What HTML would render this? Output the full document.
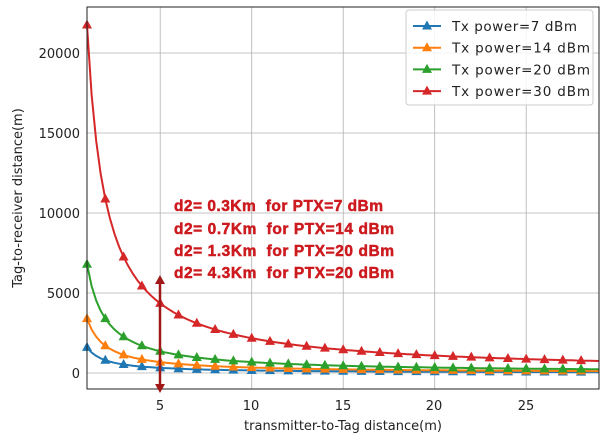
<!DOCTYPE html><html><head><style>body{margin:0;background:#fff}</style></head><body>
<svg id="s" width="603" height="434" xmlns="http://www.w3.org/2000/svg" font-family="DejaVu Sans, Liberation Sans, sans-serif">
<rect width="603" height="434" fill="#fff"/>
<g id="grid" stroke="#b0b0b0" stroke-width="0.8"></g>
<g id="series"></g>
<rect x="87" y="7" width="512" height="382" fill="none" stroke="#222" stroke-width="1"/>
<g font-size="13" fill="#222" text-anchor="end">
<text x="80" y="378">0</text><text x="80" y="298">5000</text><text x="80" y="218">10000</text><text x="80" y="138">15000</text><text x="80" y="58">20000</text></g>
<g font-size="13" fill="#222" text-anchor="middle">
<text x="160" y="410">5</text><text x="251" y="410">10</text><text x="343" y="410">15</text><text x="434" y="410">20</text><text x="526" y="410">25</text>
<text x="343" y="430">transmitter-to-Tag distance(m)</text></g>
<text font-size="13" fill="#222" text-anchor="middle" transform="translate(22,198) rotate(-90)">Tag-to-receiver distance(m)</text>
<g stroke="#a01818" stroke-width="2.5" fill="#a01818">
<line x1="160" y1="282" x2="160" y2="386"/>
<polygon points="155,284 160,275 165,284" stroke="none"/>
<polygon points="155,384 160,393 165,384" stroke="none"/></g>
<g font-size="15.5" font-weight="700" fill="#cc1a1f" stroke="#cc1a1f" stroke-width="0.5" font-family="Liberation Sans, sans-serif" lengthAdjust="spacing">
<text x="174" y="211" textLength="209">d2= 0.3Km&#160;&#160;for PTX=7 dBm</text>
<text x="174" y="234" textLength="220">d2= 0.7Km&#160;&#160;for PTX=14 dBm</text>
<text x="174" y="256" textLength="220">d2= 1.3Km&#160;&#160;for PTX=20 dBm</text>
<text x="174" y="278" textLength="220">d2= 4.3Km&#160;&#160;for PTX=20 dBm</text></g>
<rect x="406" y="10" width="187" height="95" rx="3" fill="#fff" fill-opacity="0.85" stroke="#ccc"/>
<g id="leg" font-size="13.5" fill="#222"></g>
</svg>
<script>
var X=function(x){return 87+(x-1)*18.3},Y=function(y){return 373-y*0.016};
var g=document.getElementById('grid'),h='';
[5,10,15,20,25].forEach(function(v){h+='<line x1="'+X(v)+'" x2="'+X(v)+'" y1="7" y2="389"/>'});
[0,5000,10000,15000,20000].forEach(function(v){h+='<line y1="'+Y(v)+'" y2="'+Y(v)+'" x1="87" x2="599"/>'});
g.innerHTML=h;
var S=[[1600,'#1f77b4'],[3400,'#ff7f0e'],[6800,'#2ca02c'],[21750,'#d62728']],o='';
function tri(x,y,c){return '<polygon points="'+x+','+(y-5.5)+' '+(x-5)+','+(y+3.5)+' '+(x+5)+','+(y+3.5)+'" fill="'+c+'"/>'}
S.forEach(function(s){var p=[],m='';for(var x=1;x<=29;x+=0.25){p.push(X(x).toFixed(1)+','+Y(s[0]/x).toFixed(1))}
for(var x=1;x<=28;x++)m+=tri(X(x),Y(s[0]/x),s[1]);
o+='<polyline points="'+p.join(' ')+'" fill="none" stroke="'+s[1]+'" stroke-width="2"/>'+m});
document.getElementById('series').innerHTML=o;
var L=['Tx power=7 dBm','Tx power=14 dBm','Tx power=20 dBm','Tx power=30 dBm'],W=[125,138,138,138],l='';
L.forEach(function(t,i){var y=26+i*21.7;l+='<line x1="413" x2="441" y1="'+y+'" y2="'+y+'" stroke="'+S[i][1]+'" stroke-width="2"/>'+tri(427,y,S[i][1])+'<text x="452" y="'+(y+5)+'" textLength="'+W[i]+'" lengthAdjust="spacing">'+t+'</text>'});
document.getElementById('leg').innerHTML=l;
</script>
</body></html>
